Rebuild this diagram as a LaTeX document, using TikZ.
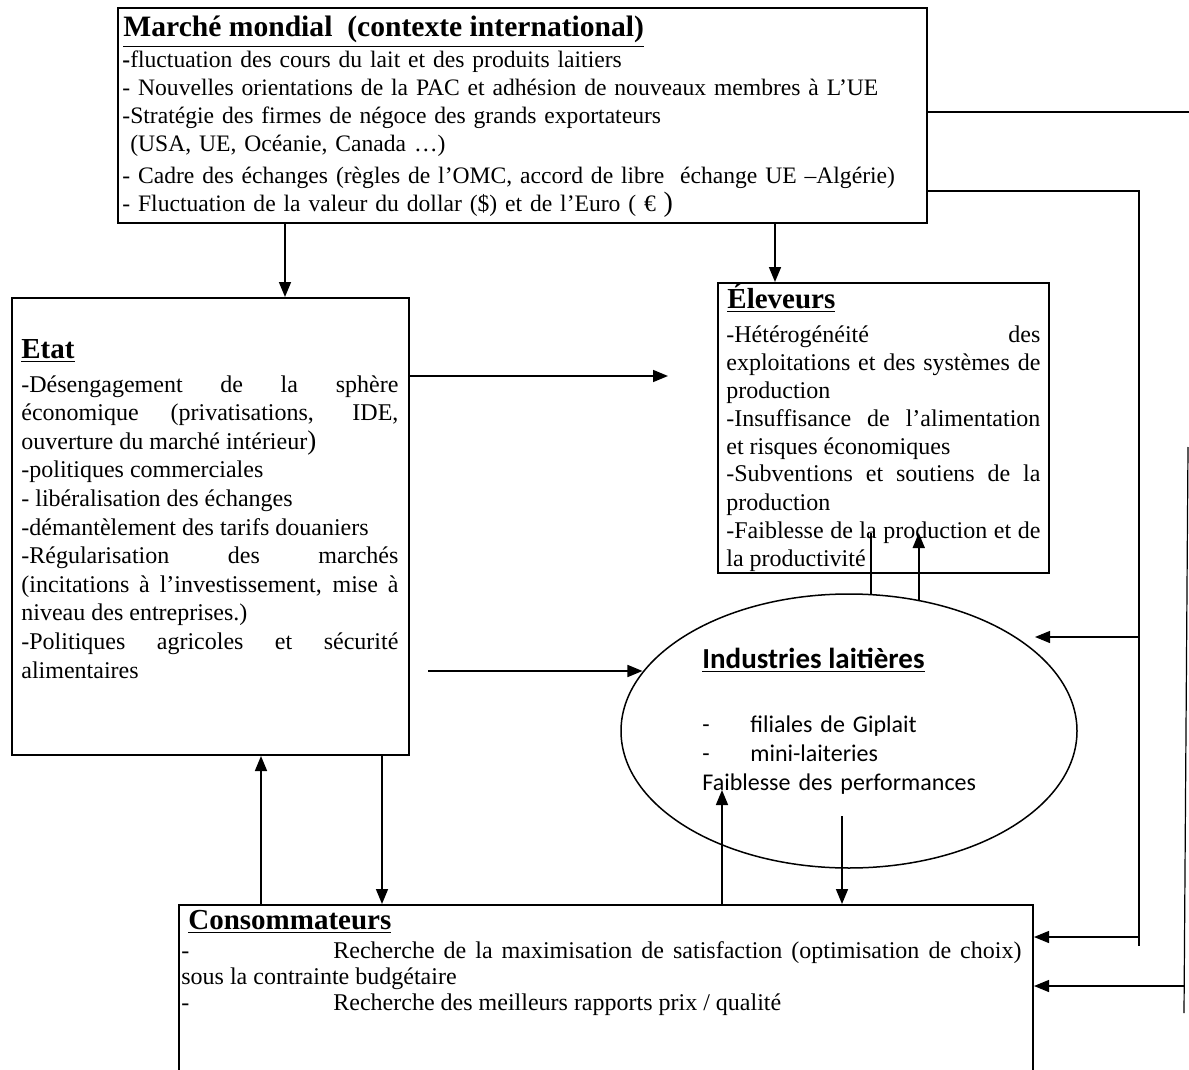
\documentclass[tikz,border=0pt]{standalone}
\usepackage{fontspec}
\setmainfont{Liberation Serif}
\newfontfamily\calibri{Carlito}
\usetikzlibrary{arrows.meta, positioning, calc, shapes.geometric}

\tikzset{
  boite/.style={draw, line width=1pt, inner sep=0pt, anchor=north west},
  texte/.style={inner sep=0pt, anchor=base west, align=justify, font=\fontsize{12}{14.3}\selectfont},
  titre/.style={inner sep=0pt, anchor=base west, font=\fontsize{14.5}{16}\selectfont\bfseries},
  fleche/.style={line width=0.8pt, -{Triangle[length=7.5pt,width=6pt]}},
  trait/.style={line width=0.8pt},
  traitfin/.style={line width=0.6pt},
}

\begin{document}
\begin{tikzpicture}[x=0.5pt,y=-0.5pt]
  \useasboundingbox (0,0) rectangle (1189,1070);
  \clip (0,0) rectangle (1189,1070);

  % les cadres
  \node[boite, minimum width=404.5pt, minimum height=107.5pt] (marche) at (117,7) {};
  \node[boite, minimum width=198.5pt, minimum height=228.5pt] (etat) at (11,297) {};
  \node[boite, minimum width=165.5pt, minimum height=145pt] (eleveurs) at (717,282) {};
  \node[draw, ellipse, line width=0.75pt, inner sep=0pt,
        minimum width=228pt, minimum height=137pt] (industries) at (849,731) {};
  \node[boite, minimum width=427pt, minimum height=95pt] (conso) at (178,904) {};

  % marche mondial
  \node[titre, font=\fontsize{14.8}{16}\selectfont\bfseries] (marchetitre) at (123,37) {\underline{Marché mondial\ \ (contexte international)}};
  \node[texte, align=left, text width=400pt, font=\fontsize{11.8}{14}\selectfont] (marchetxt) at (122,68) {%
    {\bfseries -}fluctuation des cours du lait et des produits laitiers\\
    - Nouvelles orientations de la PAC et adhésion de nouveaux membres à L’UE\\
    -Stratégie des firmes de négoce des grands exportateurs\\
    \ (USA, UE, Océanie, Canada …)\\[2pt]
    - Cadre des échanges (règles de l’OMC, accord de libre\ \ échange UE –Algérie)\\
    - Fluctuation de la valeur du dollar (\$) et de l’Euro ( € {\fontsize{14}{14}\selectfont )}};

  % etat
  \node[titre] (etattitre) at (21,358) {\underline{Etat}};
  \node[texte, text width=188.5pt] (etattxt) at (21,392) {%
    -Désengagement de la sphère\linebreak
    économique (privatisations, IDE,\linebreak
    ouverture du marché intérieur{\fontsize{13.5}{14}\selectfont )}\\
    -politiques commerciales\\
    - libéralisation des échanges\\
    -démantèlement des tarifs douaniers\\
    -Régularisation des marchés\linebreak
    (incitations à l’investissement, mise à\linebreak
    niveau des entreprises.)\\
    -Politiques agricoles et sécurité\linebreak
    alimentaires};

  % eleveurs
  \node[titre] (eleveurstitre) at (727,308) {\underline{Éleveurs}};
  \node[texte, text width=157pt, font=\fontsize{12}{14}\selectfont] (eleveurstxt) at (726,342) {%
    -Hétérogénéité des\linebreak
    exploitations et des systèmes de\linebreak
    production\\
    -Insuffisance de l’alimentation\linebreak
    et risques économiques\\
    -Subventions et soutiens de la\linebreak
    production\\
    -Faiblesse de la production et de\linebreak
    la productivité};

  % industries
  \node[titre, font=\calibri\fontsize{14.5}{16}\selectfont\bfseries] (industitre) at (702,668) {\underline{Industries laitières}};
  \node[texte, align=left, text width=160pt, font=\calibri\fontsize{12}{14.5}\selectfont] (industxt) at (702,732) {%
    \makebox[24pt][l]{-}filiales de Giplait\\
    \makebox[24pt][l]{-}mini-laiteries\\
    Faiblesse des performances};

  % consommateurs
  \node[titre] (consotitre) at (188,929) {\underline{Consommateurs}};
  \node[texte, text width=420pt, font=\fontsize{12}{13}\selectfont] (consotxt) at (181,958) {%
    \makebox[76pt][l]{-}Recherche de la maximisation de satisfaction (optimisation de choix)\linebreak
    sous la contrainte budgétaire\\
    \makebox[76pt][l]{-}Recherche des meilleurs rapports prix / qualité};

  % reperes
  \coordinate (xA) at (285,0);
  \coordinate (xB) at (775,0);
  \coordinate (xC) at (261,0);
  \coordinate (xD) at (382,0);
  \coordinate (xE) at (722,0);
  \coordinate (xF) at (842,0);
  \coordinate (yA) at (0,376);
  \coordinate (yEl) at (0,533);
  \coordinate (finEl) at (668,376);
  \coordinate (depIn) at (428,671);
  \coordinate (finIn) at (722,790);
  \coordinate (depCo) at (842,816);
  \coordinate (bordA) at (1189,112);
  \coordinate (coinA) at (1139,191);
  \coordinate (coinB) at (1139,946);
  \coordinate (fI) at (1035,637);
  \coordinate (yC1) at (0,937);
  \coordinate (dA) at (1188,447);
  \coordinate (dB) at (1184,1013);
  \coordinate (dC) at (1184,986);

  % fleches
  \draw[fleche] (marche.south -| xA) -- (etat.north -| xA);
  \draw[fleche] (marche.south -| xB) -- (eleveurs.north -| xB);
  \draw[fleche] (etat.east |- yA) -- (finEl);
  \draw[fleche] (depIn) -- (depIn -| industries.164);
  \draw[fleche] (etat.south -| xD) -- (conso.north -| xD);
  \draw[fleche] (conso.north -| xC) -- (etat.south -| xC);
  \draw[fleche] (conso.north -| xE) -- (finIn);
  \draw[fleche] (depCo) -- (conso.north -| xF);
  \draw[trait] (industries.81) -- (industries.81 |- yEl);
  \draw[fleche] (industries.62) -- (industries.62 |- yEl);

  % cote droit
  \draw[traitfin] (marche.east |- bordA) -- (bordA);
  \draw[traitfin] (marche.east |- coinA) -- (coinA) -- (coinB);
  \draw[fleche, line width=0.6pt] (coinA |- fI) -- (fI);
  \draw[fleche, line width=0.6pt] (coinA |- yC1) -- (conso.east |- yC1);
  \draw[traitfin] (dA) -- (dB);
  \draw[fleche, line width=0.6pt] (dC) -- (conso.east |- dC);
\end{tikzpicture}
\end{document}
